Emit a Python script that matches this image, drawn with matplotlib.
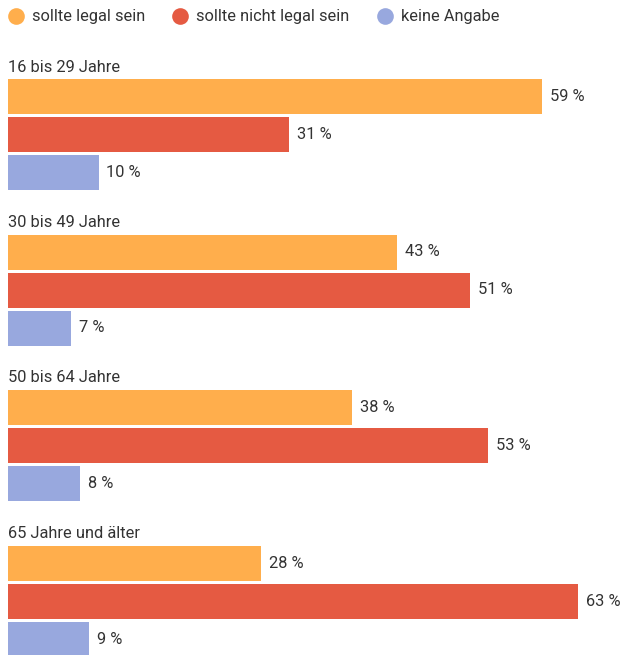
import numpy as np
import matplotlib
matplotlib.use("Agg")
import matplotlib.pyplot as plt

plt.rcParams['font.family'] = ['Roboto', 'DejaVu Sans']

groups = ["16 bis 29 Jahre", "30 bis 49 Jahre", "50 bis 64 Jahre", "65 Jahre und älter"]
series = ["sollte legal sein", "sollte nicht legal sein", "keine Angabe"]
legal = [59, 43, 38, 28]
nicht_legal = [31, 51, 53, 63]
keine = [10, 7, 8, 9]
colors = ["#FFAE4C", "#E55A42", "#98A8DE"]
text_col = "#333333"

W, H = 624, 655
fig = plt.figure(figsize=(W / 100, H / 100), dpi=100)
ax = fig.add_axes([0, 0, 1, 1])

# layout in pixels: x scale ~9.05 px per percent, bars start at px 8
px_per = 9.05
x0 = 8
ax.set_xlim(-x0 / px_per, (W - x0) / px_per)
ax.set_ylim(H, 0)
ax.axis("off")

top0 = 79
group_pitch = 155.5
bar_pitch = 38
bar_h = 35
fs = 11.8

values = [legal, nicht_legal, keine]
for g, name in enumerate(groups):
    gtop = top0 + g * group_pitch
    ax.text(0, gtop - 12, name, fontsize=fs, color=text_col, va="center", ha="left")
    for s in range(3):
        yc = gtop + s * bar_pitch + bar_h / 2
        v = values[s][g]
        ax.barh(yc, v, height=bar_h, left=0, color=colors[s], edgecolor="none")
        ax.text(v + 8 / px_per, yc, f"{v} %", fontsize=fs, color=text_col,
                va="center", ha="left")

# legend
leg_x = [16, 180, 385]
for s, name in enumerate(series):
    cx = (leg_x[s] - x0) / px_per
    ax.plot(cx, 16, "o", ms=12, color=colors[s], mec="none")
    ax.text(cx + 16 / px_per, 17, name, fontsize=fs, color=text_col,
            va="center", ha="left")

fig.savefig("out.png", dpi=100)
